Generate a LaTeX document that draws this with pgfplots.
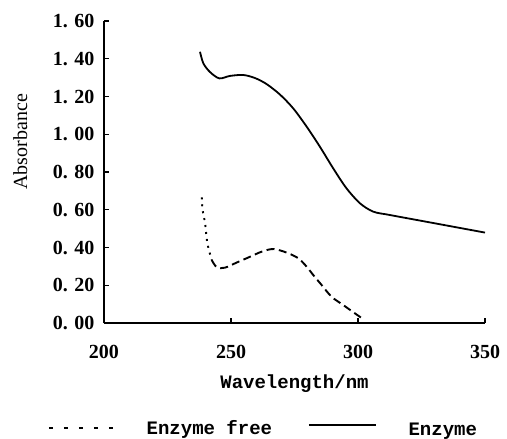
\documentclass[border=0pt]{standalone}
\usepackage{fontspec}
\setmainfont{Liberation Serif}
\newfontfamily\monofont{Liberation Mono}
\usepackage{pgfplots}
\pgfplotsset{compat=1.18}
\usetikzlibrary{calc}

\begin{document}
\begin{tikzpicture}
\begin{axis}[
  name=ax,
  scale only axis,
  width=381bp, height=302bp,
  xmin=200, xmax=350, ymin=0, ymax=1.6,
  axis lines=left,
  axis line style={-, line width=1.5bp},
  tick align=inside,
  major tick length=5bp,
  tick style={line width=1.2bp, black},
  xtick={200,250,300,350},
  xticklabels={200,250,300,350},
  ytick={0,0.2,0.4,0.6,0.8,1.0,1.2,1.4,1.6},
  yticklabels={0. 00,0. 20,0. 40,0. 60,0. 80,1. 00,1. 20,1. 40,1. 60},
  xticklabel style={font=\fontsize{20bp}{24bp}\selectfont\bfseries, yshift=-19bp},
  yticklabel style={font=\fontsize{20bp}{24bp}\selectfont\bfseries, xshift=-6bp},
  xlabel={Wavelength/nm},
  xlabel style={font=\monofont\bfseries\fontsize{19bp}{22bp}\selectfont, at={(axis description cs:0.5,-0.2)}, anchor=center},
  ylabel={Absorbance},
  ylabel style={font=\fontsize{20bp}{24bp}\selectfont, at={(axis description cs:-0.22,0.6)}, anchor=center},
  legend columns=2,
  legend cell align=left,
  legend style={draw=none, fill=none, inner sep=0pt,
    at={(axis description cs:-0.147,-0.348)}, anchor=west,
    font=\monofont\bfseries\fontsize{19bp}{22bp}\selectfont,
    /tikz/every odd column/.append style={column sep=30bp},
    /tikz/every even column/.append style={column sep=34bp}},
]
% Enzyme free, steep dotted start
\addplot[black, line width=1.9bp, dash pattern=on 2bp off 5bp, smooth, forget plot] coordinates {
(238.5,0.666) (238.8,0.600) (239.8,0.528) (240.7,0.422) (242.4,0.334)
};
% Enzyme free, dashed remainder
\addplot[black, line width=1.9bp, dash pattern=on 8bp off 4.5bp, smooth,
  legend image code/.code={\draw[black, line width=1.5bp, dash pattern=on 4bp off 11bp] (0bp,0bp) -- (65bp,0bp);}] coordinates {
(242.4,0.334) (244.4,0.295) (247.6,0.293) (252.2,0.320) (257.5,0.351)
(262.1,0.378) (266.7,0.392) (271.9,0.373) (276.5,0.343) (279.8,0.298)
(282.4,0.254) (285.7,0.201) (289.6,0.139) (294.2,0.095) (298.8,0.051)
(302.1,0.020)
};
\addlegendentry{Enzyme free}
% Enzyme
\addplot[black, line width=1.8bp, smooth,
  legend image code/.code={\draw[black, line width=1.5bp] (0bp,3bp) -- (67bp,3bp);}] coordinates {
(237.8,1.437) (239.1,1.376) (241.7,1.330) (245.4,1.296) (249.6,1.309)
(254.8,1.314) (259.4,1.298) (264.0,1.266) (269.3,1.210) (274.5,1.137)
(279.8,1.040) (285.0,0.934) (290.3,0.818) (295.5,0.713) (300.8,0.634)
(306.0,0.590) (312.6,0.572) (328.3,0.533) (350.0,0.479)
};
\addlegendentry{\raisebox{-3bp}{Enzyme}}
\end{axis}
\pgfresetboundingbox
\path[use as bounding box] ($(ax.south west)+(-104bp,-116bp)$) rectangle ($(ax.north east)+(22bp,21bp)$);
\end{tikzpicture}
\end{document}
